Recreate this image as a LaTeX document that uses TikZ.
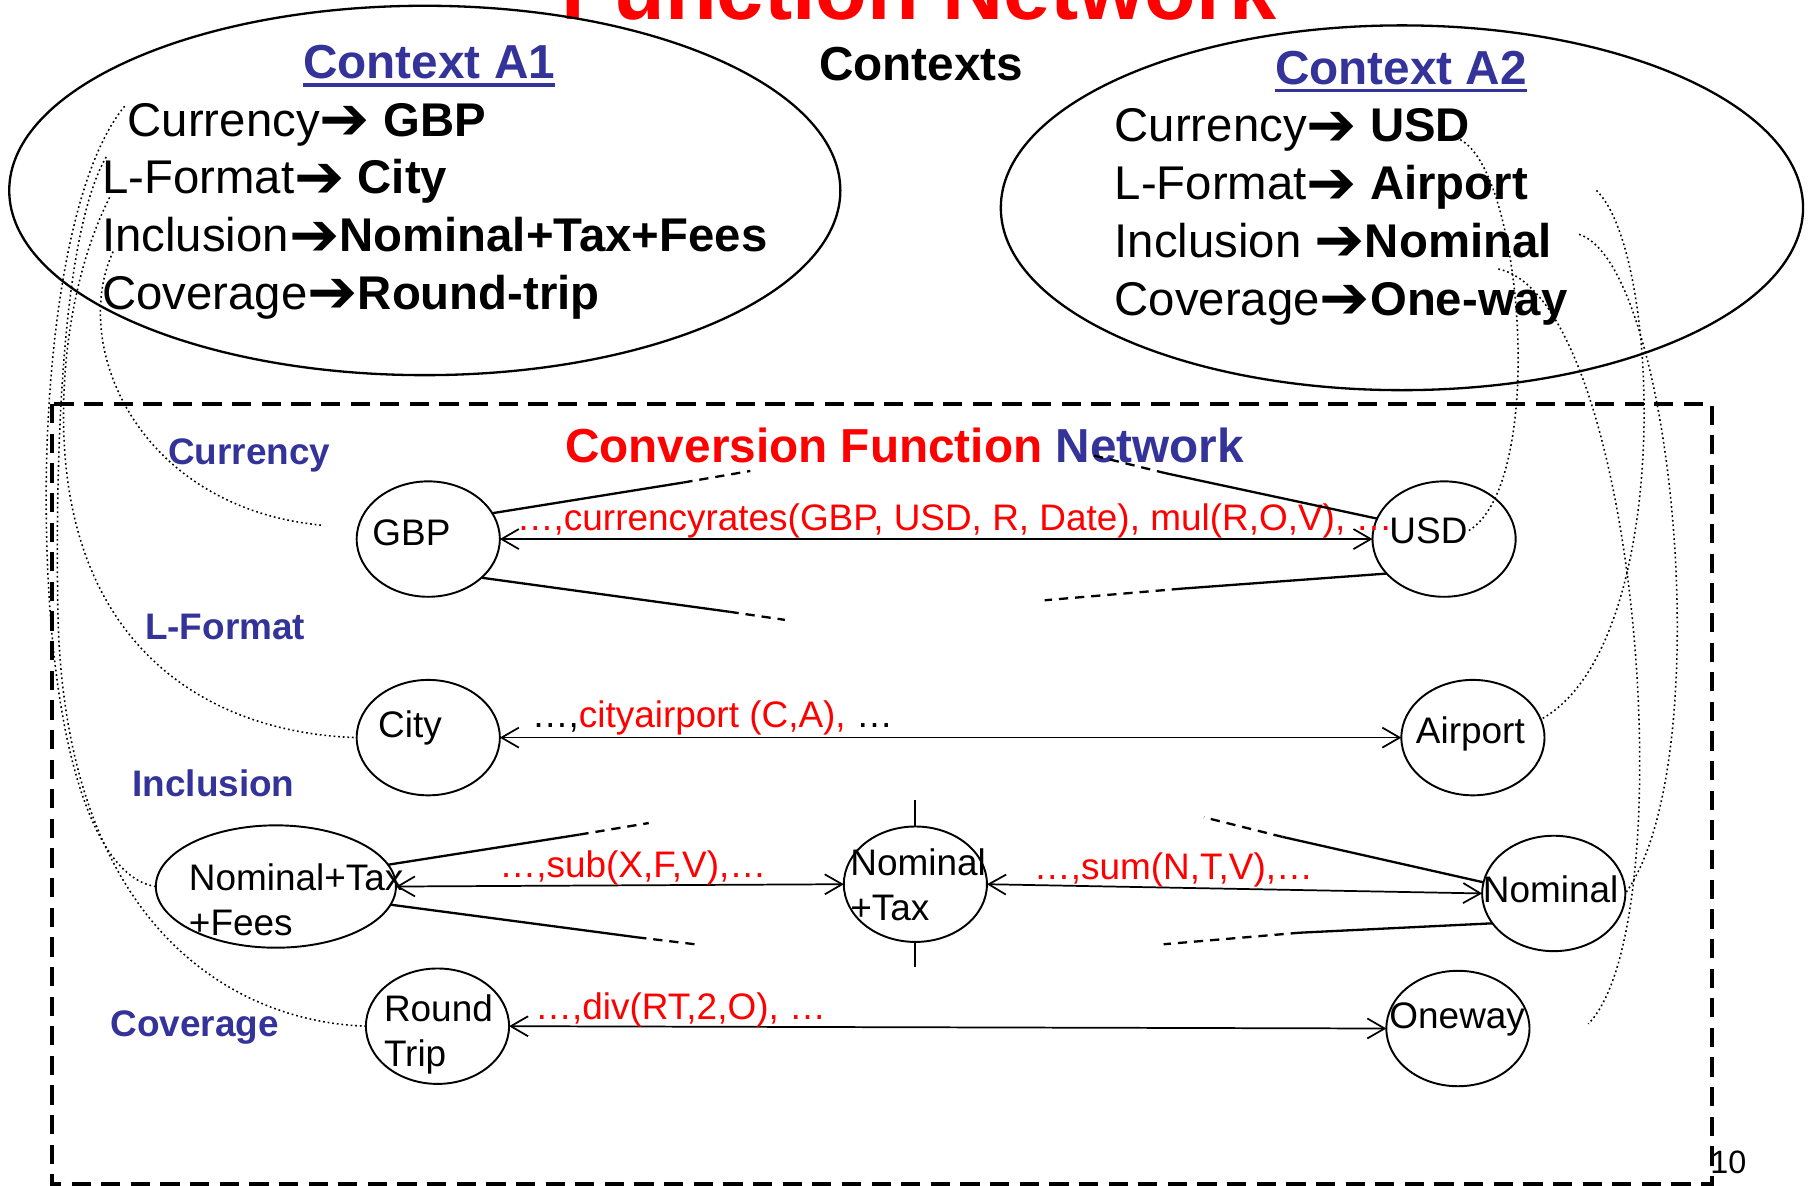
\documentclass[tikz,border=0pt]{standalone}
\usepackage{fontspec}
\setmainfont{Liberation Sans}
\newfontfamily\arrowfont{DejaVu Sans}
\usepackage{xcolor}
\usepackage{tikz}
\usetikzlibrary{arrows.meta, positioning, shapes.geometric}
\definecolor{slidered}{HTML}{FF0000}
\definecolor{slideblue}{HTML}{333399}
\newcommand{\ctxarrow}{\raisebox{-0.9pt}{\arrowfont\bfseries\fontsize{15.6}{15.6}\selectfont\char"2794}}
\newcommand{\ctxunder}[1]{\setbox0=\hbox{#1}\rlap{\rule[-2.1pt]{\wd0}{0.9pt}}\box0}

\begin{document}
\begin{tikzpicture}[x=0.3pt, y=-0.3pt,
  ctxtext/.style={anchor=base west, inner sep=0pt, font=\fontsize{12.3}{14.8}\selectfont},
  ctxtitle/.style={anchor=base west, inner sep=0pt, font=\fontsize{12.4}{14.8}\selectfont\bfseries, text=slideblue},
  ctxring/.style={draw, ellipse, line width=0.6pt, inner sep=0pt, outer sep=0pt},
  modlabel/.style={anchor=base west, inner sep=0pt, font=\fontsize{9.6}{11.5}\selectfont\bfseries, text=slideblue},
  valnode/.style={draw, ellipse, line width=0.5pt, inner sep=0pt, outer sep=0pt, minimum width=37.2pt, minimum height=30pt},
  valtext/.style={anchor=base west, inner sep=0pt, font=\fontsize{9.6}{11.7}\selectfont},
  conv/.style={line width=0.45pt, {Straight Barb[length=4.5pt,width=5.2pt]}-{Straight Barb[length=4.5pt,width=5.2pt]}},
  convlabel/.style={anchor=base west, inner sep=0pt, font=\fontsize{9.6}{11.5}\selectfont, text=slidered},
  fan/.style={line width=0.6pt},
  fandash/.style={line width=0.6pt, dash pattern=on 2.4pt off 1.8pt},
  ctxlink/.style={line width=0.4pt, dash pattern=on 0.45pt off 0.75pt}]
  \useasboundingbox (0,0) rectangle (1568,1027);
  \node[anchor=base west, inner sep=0pt, font=\fontsize{22}{26}\selectfont\bfseries, text=slidered] (title) at (486,17) {Function Network};

  \node[ctxring, minimum width=216pt, minimum height=96pt] (ctxa1) at (368,165) {};
  \node[ctxring, minimum width=208.5pt, minimum height=94.8pt] (ctxa2) at (1214.5,180) {};
  \node[ctxtitle] (a1title) at (262,68) {\ctxunder{Context A1}};
  \node[ctxtitle] (a2title) at (1104,73) {\ctxunder{Context A2}};
  \node[ctxtitle, text=black] (contexts) at (709,70) {Contexts};

  \node[ctxtext] (a1cur) at (110,118) {Currency\ctxarrow\ \textbf{GBP}};
  \node[ctxtext] (a1fmt) at (88,168) {L-Format\ctxarrow\ \textbf{City}};
  \node[ctxtext] (a1inc) at (88,218) {Inclusion\ctxarrow\textbf{Nominal+Tax+Fees}};
  \node[ctxtext] (a1cov) at (88,268) {Coverage\ctxarrow\textbf{Round-trip}};
  \node[ctxtext] (a2cur) at (965,123) {Currency\ctxarrow\ \textbf{USD}};
  \node[ctxtext] (a2fmt) at (965,173) {L-Format\ctxarrow\ \textbf{Airport}};
  \node[ctxtext] (a2inc) at (965,223) {Inclusion \ctxarrow\textbf{Nominal}};
  \node[ctxtext] (a2cov) at (965,273) {Coverage\ctxarrow\textbf{One-way}};

  \draw[line width=1pt, dash pattern=on 5pt off 2.7pt] (45,350) rectangle (1483,1026);
  \node[ctxtitle] (cfn) at (489,401) {\textcolor{slidered}{Conversion Function} Network};

  \node[modlabel] (lcur) at (145,402) {Currency};
  \node[modlabel] (lfmt) at (125,554) {L-Format};
  \node[modlabel] (linc) at (114,690) {Inclusion};
  \node[modlabel] (lcov) at (95,898) {Coverage};

  \node[valnode] (gbp) at (371,467) {};
  \node[valnode] (usd) at (1251,467) {};
  \node[valnode] (city) at (371,639) {};
  \node[valnode] (airport) at (1276,639) {};
  \node[valnode, minimum width=62.4pt, minimum height=31.8pt] (ntf) at (239,768) {};
  \node[valnode] (ntax) at (793,766) {};
  \node[valnode] (nominal) at (1346,774) {};
  \node[valnode] (round) at (379,889) {};
  \node[valnode] (oneway) at (1263,891) {};

  \node[valtext] (gbptxt) at (322,473) {GBP};
  \node[valtext] (usdtxt) at (1203,471) {USD};
  \node[valtext] (citytxt) at (327,639) {City};
  \node[valtext] (airporttxt) at (1226,644) {Airport};
  \node[valtext] (nominaltxt) at (1284,782) {Nominal};
  \node[valtext] (onewaytxt) at (1203,891) {Oneway};
  \node[valtext, anchor=north west, align=left] (ntaxtxt) at (736,735) {Nominal\\+Tax};
  \node[valtext, anchor=north west, align=left] (ntftxt) at (163,748) {Nominal+Tax\\+Fees};
  \node[valtext, anchor=north west, align=left] (roundtxt) at (332,861) {Round\\Trip};

  \draw[conv] (gbp.east) -- (usd.west);
  \draw[conv] (city.east) -- (airport.west);
  \draw[conv] (ntf.east) -- (ntax.west);
  \draw[conv] (ntax.east) -- (nominal.west);
  \draw[conv] (round.east) -- (oneway.west);

  \node[convlabel] (currrule) at (447,460) {…,currencyrates(GBP, USD, R, Date), mul(R,O,V), …};
  \node[convlabel, text=black] (cityrule) at (460,630) {…,\textcolor{slidered}{cityairport (C,A),} …};
  \node[convlabel] (subrule) at (432,760) {…,sub(X,F,V),…};
  \node[convlabel] (sumrule) at (895,762) {…,sum(N,T,V),…};
  \node[convlabel] (divrule) at (463,883) {…,div(RT,2,O), …};

  \coordinate (gbpup) at (592,418);    \coordinate (gbpupend) at (650,408);
  \coordinate (gbpdown) at (632,530);  \coordinate (gbpdownend) at (680,537);
  \coordinate (usdup) at (1010,410);   \coordinate (usdupend) at (945,394);
  \coordinate (usddown) at (1023,510); \coordinate (usddownend) at (905,520);
  \coordinate (ntfup) at (502,723);    \coordinate (ntfupend) at (562,713);
  \coordinate (ntfdown) at (552,812);  \coordinate (ntfdownend) at (602,818);
  \coordinate (nomup) at (1111,725);   \coordinate (nomupend) at (1043,708);
  \coordinate (nomdown) at (1126,808); \coordinate (nomdownend) at (1008,818);
  \coordinate (ntaxtop) at (793,693);  \coordinate (ntaxbot) at (793,838);
  \draw[fan] (gbp.22) -- (gbpup);      \draw[fandash] (gbpup) -- (gbpupend);
  \draw[fan] (gbp.-36) -- (gbpdown);   \draw[fandash] (gbpdown) -- (gbpdownend);
  \draw[fan] (usd.163) -- (usdup);     \draw[fandash] (usdup) -- (usdupend);
  \draw[fan] (usd.211) -- (usddown);   \draw[fandash] (usddown) -- (usddownend);
  \draw[fan] (ntf.11) -- (ntfup);      \draw[fandash] (ntfup) -- (ntfupend);
  \draw[fan] (ntf.-9) -- (ntfdown);    \draw[fandash] (ntfdown) -- (ntfdownend);
  \draw[fan] (nominal.171) -- (nomup); \draw[fandash] (nomup) -- (nomupend);
  \draw[fan] (nominal.206) -- (nomdown); \draw[fandash] (nomdown) -- (nomdownend);
  \draw[line width=0.5pt] (ntax.north) -- (ntaxtop);
  \draw[line width=0.5pt] (ntax.south) -- (ntaxbot);

  \coordinate (a1s1) at (108,92);  \coordinate (a1s2) at (92,136);
  \coordinate (a1s3) at (95,171);  \coordinate (a1s4) at (98,218);
  \coordinate (a2s1) at (1265,121); \coordinate (a2s2) at (1383,165);
  \coordinate (a2s3) at (1368,203); \coordinate (a2s4) at (1298,233);
  \draw[ctxlink] (a1s1) .. controls (60,150) and (40,300) .. (40,430) .. controls (40,640) and (80,760) .. (ntf.west);
  \draw[ctxlink] (a1s2) .. controls (55,200) and (48,380) .. (50,520) .. controls (52,800) and (200,885) .. (round.west);
  \draw[ctxlink] (a1s3) .. controls (70,220) and (55,290) .. (55,360) .. controls (55,560) and (180,635) .. (city.west);
  \draw[ctxlink] (a1s4) .. controls (60,300) and (120,440) .. ([shift={(-30,-12)}]gbp.west);
  \draw[ctxlink] (a2s1) .. controls (1320,150) and (1340,420) .. (usdtxt.east);
  \draw[ctxlink] (a2s2) .. controls (1440,220) and (1450,560) .. (airport.15);
  \draw[ctxlink] (a2s3) .. controls (1450,230) and (1490,660) .. (nominal.east);
  \draw[ctxlink] (a2s4) .. controls (1420,260) and (1460,800) .. ([shift={(51,-4)}]oneway.east);

  \node[anchor=base west, inner sep=0pt, font=\fontsize{8.4}{10}\selectfont] (pagenum) at (1481,1017) {10};
\end{tikzpicture}
\end{document}
